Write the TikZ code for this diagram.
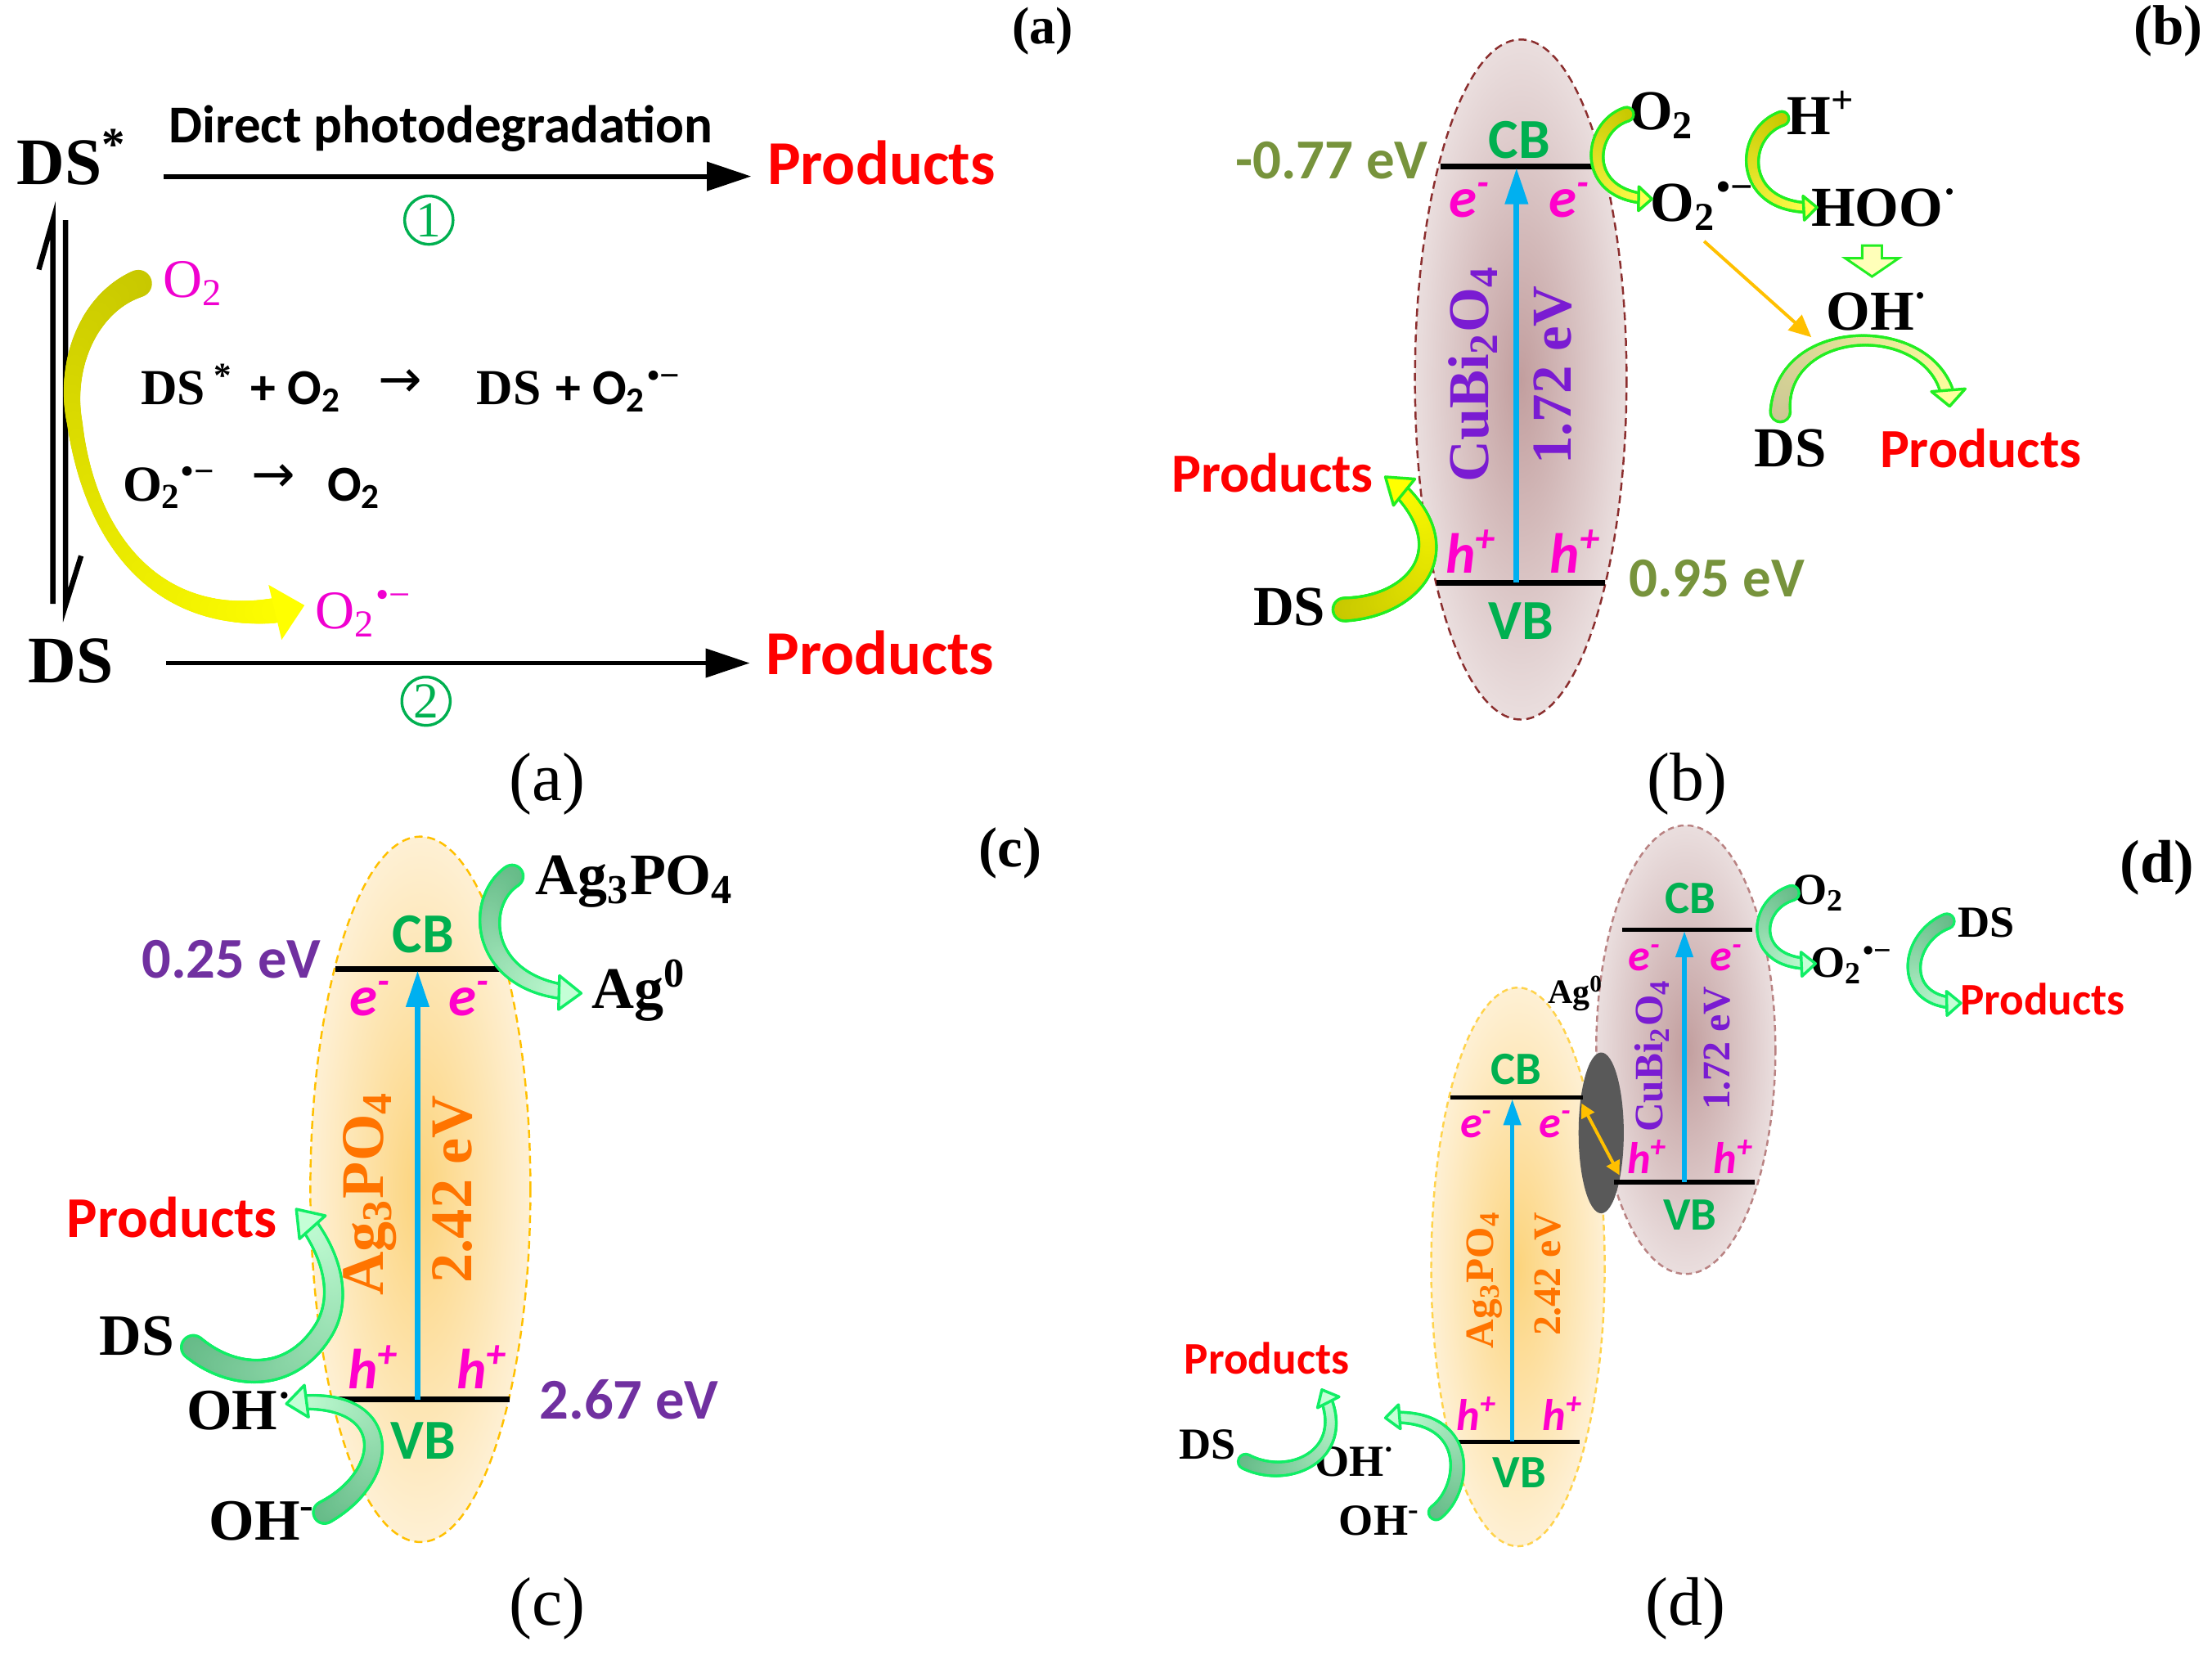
\documentclass[tikz,border=0pt]{standalone}
\usepackage{fontspec}
\setmainfont{Liberation Serif}
\newfontfamily\calfont{Carlito}
\newfontfamily\djfont{DejaVu Sans}
\usetikzlibrary{arrows.meta,decorations.markings}

\definecolor{cbgreen}{HTML}{00B050}
\definecolor{emag}{HTML}{FF00CC}
\definecolor{olivev}{HTML}{77933C}
\definecolor{purpv}{HTML}{7030A0}
\definecolor{violett}{HTML}{7A1BD2}
\definecolor{orangt}{HTML}{FF7400}
\definecolor{prodred}{HTML}{FF0000}
\definecolor{skyb}{HTML}{00B0F0}
\definecolor{mag}{HTML}{F000D0}
\definecolor{olivy}{HTML}{C8C800}
\definecolor{yelw}{HTML}{FFFF00}
\definecolor{yelw2}{HTML}{FFFF50}
\definecolor{limeo}{HTML}{22EE22}
\definecolor{limeg}{HTML}{11EE66}
\definecolor{khaki}{HTML}{CCC894}
\definecolor{paley}{HTML}{FFFF9E}
\definecolor{dgreen}{HTML}{66BB88}
\definecolor{mint}{HTML}{C4FFD6}
\definecolor{brownin}{RGB}{194,158,158}
\definecolor{brownout}{RGB}{234,222,222}
\definecolor{brownedge}{HTML}{8B2E2E}
\definecolor{orin}{RGB}{252,212,125}
\definecolor{orout}{RGB}{254,240,212}
\definecolor{oredge}{HTML}{FFC000}
\definecolor{agdark}{HTML}{595959}

\tikzset{
 tx/.style={inner sep=0pt, outer sep=0pt},
 sb/.style={tx, font=\fontsize{#1}{#1}\selectfont\bfseries},
 sr/.style={tx, font=\fontsize{#1}{#1}\selectfont},
 cb/.style={tx, font=\calfont\fontsize{#1}{#1}\selectfont\bfseries},
 cr/.style={tx, font=\calfont\fontsize{#1}{#1}\selectfont},
 ci/.style={tx, text=emag, font=\calfont\fontsize{#1}{#1}\selectfont\bfseries\itshape},
 bandtxt/.style={cb=#1, text=cbgreen},
 prodtxt/.style={cb=#1, text=prodred},
 bandline/.style={line width=#1, black},
 bluearrow/.style n args={3}{draw=skyb, line width=#1, -{Triangle[length=#2,width=#3]}},
 blkarrow/.style={line width=1.2pt, -{Triangle[length=11pt,width=7pt]}},
 harp/.style={line width=1.3pt, line join=miter},
 numcirc/.style={circle, draw=cbgreen, line width=0.7pt, minimum size=12pt, inner sep=0pt, text=cbgreen, font=\fontsize{12.5}{12.5}\selectfont},
 brush/.style n args={6}{postaction={decorate,decoration={markings,
   mark=between positions 0 and -#6pt step 0.4pt with {%
     \pgfmathsetmacro\bt{\pgfkeysvalueof{/pgf/decoration/mark info/distance from start}/\pgfdecoratedpathlength}%
     \pgfmathsetmacro\bp{100*\bt}%
     \pgfmathsetmacro\br{(#3)*(1-\bt)+(#4)*\bt+4*(#5)*\bt*(1-\bt)}%
     \fill[#2!\bp!#1] (0pt,0pt) circle[radius=\br*1pt];}}}},
}

% #1 path #2 start colour #3 end colour #4 outline #5 r0 #6 r1 #7 mid offset #8 head length #9 head half width
\newcommand\swoosh[9]{%
 \path[brush={#4}{#4}{#5+0.7}{#6+0.7}{#7}{#8}] #1;%
 \path[brush={#2}{#3}{#5}{#6}{#7}{#8}] #1;%
 \path[postaction={decorate,decoration={markings,mark=at position 0.9995 with {\filldraw[fill=#3,draw=#4,line width=0.7pt,line join=round] (0pt,0pt)--(-#8pt,#9pt)--(-#8pt,-#9pt)--cycle;}}}] #1;}

\begin{document}
\begin{tikzpicture}[x=0.35pt,y=-0.35pt]
\useasboundingbox (0,0) rectangle (1568,1179);
\fill[white] (0,0) rectangle (1568,1179);

% ================= panel (a)
\node[sb=13] (la) at (739,22) {(a)};
\node[sr=17] (capa) at (388,556) {(a)};
\node[sb=16.5, anchor=base west] (dsstar) at (12,131) {DS\textsuperscript{*}};
\node[sb=16.5, anchor=base west] (dsbot) at (20,484) {DS};
\node[cb=13.2, anchor=base west] (photo) at (120,101) {Direct photodegradation};
\node[prodtxt=15.5, anchor=base west] (proda1) at (544,131) {Products};
\node[prodtxt=15.5, anchor=base west] (proda2) at (543,478) {Products};
\coordinate (a1s) at (116,125);
\coordinate (a2s) at (118,470);
\draw[blkarrow, shorten >=4pt] (a1s) -- (proda1.west |- a1s);
\draw[blkarrow, shorten >=4pt] (a2s) -- (proda2.west |- a2s);
\node[numcirc] (n1) at (304,156) {1};
\node[numcirc] (n2) at (302,497) {2};
% equilibrium harpoons
\coordinate (hla) at (37.5,428); \coordinate (hlb) at (37.5,156);
\coordinate (hra) at (46.5,156); \coordinate (hrb) at (46.5,429);
\draw[harp] (hla) -- (hlb) -- ++(-10,35);
\draw[harp] (hra) -- (hrb) -- ++(11,-35);
% big yellow arrow
\coordinate (ya) at (98,201); \coordinate (yb) at (216,429);
\path[brush={olivy}{yelw}{3.4}{3.5}{-1.7}{7.5}] (ya) .. controls (62,215) and (45,260) .. (53,300) .. controls (65,390) and (120,452) .. (yb);
\path[postaction={decorate,decoration={markings,mark=at position 0.9995 with {\fill[yelw] (0pt,0pt)--(-7.5pt,7pt)--(-7.5pt,-7pt)--cycle;}}}] (ya) .. controls (62,215) and (45,260) .. (53,300) .. controls (65,390) and (120,452) .. (yb);
\node[sr=13.5, text=mag] (mo2) at (137,201) {O\textsubscript{2}};
\node[sr=13.5, text=mag] (mo2r) at (258,435) {O\textsubscript{2}\textsuperscript{•−}};
% equations
\node[sb=12.5, anchor=base west] (eq1a) at (100,287) {DS\,\textsuperscript{*}};
\node[cb=12.5, anchor=base west] (eq1b) at (178,287) {+ O\textsubscript{2}};
\node[tx, font=\djfont\fontsize{13}{13}\selectfont] (eq1c) at (284,272) {→};
\node[sb=12.5, anchor=base west] (eq1d) at (338,287) {DS};
\node[cb=12.5, anchor=base west] (eq1e) at (394,287) {+ O\textsubscript{2}};
\node[sb=12.5, anchor=base west] (eq1f) at (459,287) {\textsuperscript{•−}};
\node[sb=12.5, anchor=base west] (eq2a) at (87,355) {O\textsubscript{2}\textsuperscript{•−}};
\node[tx, font=\djfont\fontsize{13}{13}\selectfont] (eq2b) at (194,339) {→};
\node[cb=12.5, anchor=base west] (eq2c) at (232,355) {O\textsubscript{2}};

% ================= panel (b)
\node[sb=14] (lb) at (1537,22) {(b)};
\node[sr=17] (capb) at (1196,556) {(b)};
\shade[inner color=brownin, outer color=brownout] (1078,269) ellipse [x radius=75, y radius=241];
\draw[brownedge, dash pattern=on 2pt off 1.2pt, line width=0.5pt] (1078,269) ellipse [x radius=75, y radius=241];
\coordinate (bcbl) at (1021,118); \coordinate (bcbr) at (1134,118);
\coordinate (bvbl) at (1018,413); \coordinate (bvbr) at (1138,413);
\draw[bandline=1.5pt] (bcbl) -- (bcbr);
\draw[bandline=1.5pt] (bvbl) -- (bvbr);
\coordinate (bbl) at (1075,413); \coordinate (btl) at (1075,119);
\draw[bluearrow={1.4pt}{9pt}{5.5pt}] (bbl) -- (btl);
\node[bandtxt=14] (bcb) at (1077,99) {CB};
\node[bandtxt=14] (bvb) at (1078,440) {VB};
\node[ci=14] (be1) at (1042,142) {e\textsuperscript{-}};
\node[ci=14] (be2) at (1113,142) {e\textsuperscript{-}};
\node[ci=14] (bh1) at (1043,391) {h\textsuperscript{+}};
\node[ci=14] (bh2) at (1117,391) {h\textsuperscript{+}};
\node[sb=14.3, text=violett, rotate=90] (bcubi) at (1044,265) {CuBi\textsubscript{2}O\textsubscript{4}};
\node[sb=14, text=violett, rotate=90] (bgap) at (1101,266) {1.72 eV};
\node[cb=14, text=olivev] (bcbv) at (944,114) {-0.77 eV};
\node[cb=14, text=olivev] (bvbv) at (1217,410) {0.95 eV};
\node[prodtxt=13.7] (bprodl) at (902,335) {Products};
\node[sb=14] (bdsl) at (914,430) {DS};
\node[sb=14] (bo2) at (1178,82) {O\textsubscript{2}};
\node[sb=14] (bo2r) at (1207,146) {O\textsubscript{2}\textsuperscript{•−}};
\node[sb=14] (bhp) at (1291,80) {H\textsuperscript{+}};
\node[sb=14] (bhoo) at (1336,147) {HOO\textsuperscript{·}};
\node[sb=14] (boh) at (1331,221) {OH\textsuperscript{·}};
\node[sb=14] (bdsr) at (1269,318) {DS};
\node[prodtxt=13.7] (bprodr) at (1404,318) {Products};
% curved arrows (b)
\coordinate (b1s) at (1153,81); \coordinate (b1e) at (1171,141);
\swoosh{(b1s) .. controls (1125,90) and (1120,140) .. (b1e)}{olivy}{yelw2}{limeo}{1.4}{0.8}{0}{3.3}{3}
\coordinate (b2s) at (1263,84); \coordinate (b2e) at (1288,147);
\swoosh{(b2s) .. controls (1232,95) and (1232,150) .. (b2e)}{olivy}{yelw2}{limeo}{1.4}{0.8}{0}{3.3}{3}
\coordinate (b3s) at (953,432); \coordinate (b3e) at (982,338);
\swoosh{(b3s) .. controls (1005,430) and (1040,385) .. (b3e)}{olivy}{yelw}{limeo}{2.5}{1.3}{0}{6}{4.2}
\coordinate (b4s) at (1262,292); \coordinate (b4e) at (1382,288);
\swoosh{(b4s) .. controls (1262,225) and (1377,225) .. (b4e)}{khaki}{paley}{limeo}{2.1}{1.4}{-0.9}{4}{4.2}
\coordinate (orS) at (1208,171); \coordinate (orE) at (1284,239);
\draw[draw=oredge, line width=0.8pt, -{Triangle[length=5.5pt,width=5pt]}] (orS) -- (orE);
\filldraw[fill=yelw2!40!white, draw=limeo, line width=0.6pt] (1320,174) -- (1334,174) -- (1334,183) -- (1346,183) -- (1327,196) -- (1308,183) -- (1320,183) -- cycle;

% ================= panel (c)
\node[sb=14] (lc) at (716,605) {(c)};
\node[sr=17] (capc) at (388,1140) {(c)};
\shade[inner color=orin, outer color=orout] (298,843) ellipse [x radius=78, y radius=250];
\draw[oredge, dash pattern=on 2pt off 1.2pt, line width=0.5pt] (298,843) ellipse [x radius=78, y radius=250];
\coordinate (ccbl) at (238,687); \coordinate (ccbr) at (359,687);
\coordinate (cvbl) at (236,992); \coordinate (cvbr) at (361,992);
\draw[bandline=1.5pt] (ccbl) -- (ccbr);
\draw[bandline=1.5pt] (cvbl) -- (cvbr);
\coordinate (cbl) at (296,992); \coordinate (ctl) at (296,688);
\draw[bluearrow={1.4pt}{9pt}{5.5pt}] (cbl) -- (ctl);
\node[bandtxt=14] (ccb) at (300,662) {CB};
\node[bandtxt=14] (cvb) at (300,1021) {VB};
\node[ci=14] (ce1) at (263,708) {e\textsuperscript{-}};
\node[ci=14] (ce2) at (333,708) {e\textsuperscript{-}};
\node[ci=14] (ch1) at (265,969) {h\textsuperscript{+}};
\node[ci=14] (ch2) at (342,969) {h\textsuperscript{+}};
\node[sb=15, text=orangt, rotate=90] (cag) at (262,846) {Ag\textsubscript{3}PO\textsubscript{4}};
\node[sb=14.7, text=orangt, rotate=90] (cgap) at (321,843) {2.42 eV};
\node[cb=14.3, text=purpv] (ccbv) at (164,680) {0.25 eV};
\node[cb=14.3, text=purpv] (cvbv) at (446,992) {2.67 eV};
\node[sb=14.6] (cagp) at (450,625) {Ag\textsubscript{3}PO\textsubscript{4}};
\node[sb=14.6] (cag0) at (453,702) {Ag\textsuperscript{0}};
\node[prodtxt=14.3] (cprod) at (122,863) {Products};
\node[sb=14.5] (cds) at (97,947) {DS};
\node[sb=14.5] (cohr) at (170,1000) {OH\textsuperscript{·}};
\node[sb=14.5] (cohm) at (186,1078) {OH\textsuperscript{-}};
\coordinate (c1s) at (363,621); \coordinate (c1e) at (412,704);
\swoosh{(c1s) .. controls (335,640) and (340,702) .. (c1e)}{dgreen}{mint}{limeg}{2.4}{1.3}{0}{5.5}{4.2}
\coordinate (c2s) at (137,955); \coordinate (c2e) at (210,857);
\swoosh{(c2s) .. controls (165,978) and (205,980) .. (228,945) .. controls (245,920) and (235,885) .. (c2e)}{dgreen}{mint}{limeg}{2.6}{1.6}{0}{6}{4.3}
\coordinate (c3s) at (230,1072); \coordinate (c3e) at (203,995);
\swoosh{(c3s) .. controls (280,1045) and (280,985) .. (c3e)}{dgreen}{mint}{limeg}{2.4}{1.2}{0}{5}{4}

% ================= panel (d)
\node[sb=15] (ld) at (1529,615) {(d)};
\node[sr=17] (capd) at (1195,1140) {(d)};
\shade[inner color=brownin, outer color=brownout] (1195,744) ellipse [x radius=63.5, y radius=159];
\draw[brownedge!60!white, dash pattern=on 1.5pt off 1pt, line width=0.5pt] (1195,744) ellipse [x radius=63.5, y radius=159];
\shade[inner color=orin, outer color=orout] (1076,898) ellipse [x radius=61.5, y radius=198];
\draw[oredge!70!white, dash pattern=on 1.5pt off 1pt, line width=0.5pt] (1076,898) ellipse [x radius=61.5, y radius=198];
\fill[agdark] (1135,803) ellipse [x radius=16, y radius=57];
\coordinate (dcbl) at (1150,659); \coordinate (dcbr) at (1242,659);
\coordinate (dvbl) at (1144,838); \coordinate (dvbr) at (1244,838);
\draw[bandline=1.1pt] (dcbl) -- (dcbr);
\draw[bandline=1.1pt] (dvbl) -- (dvbr);
\coordinate (ecbl) at (1028,778); \coordinate (ecbr) at (1122,778);
\coordinate (evbl) at (1031,1022); \coordinate (evbr) at (1120,1022);
\draw[bandline=1.1pt] (ecbl) -- (ecbr);
\draw[bandline=1.1pt] (evbl) -- (evbr);
\coordinate (dbl) at (1194,838); \coordinate (dtl) at (1194,660);
\draw[bluearrow={1.1pt}{6.5pt}{4.2pt}] (dbl) -- (dtl);
\coordinate (ebl) at (1072,1022); \coordinate (etl) at (1072,779);
\draw[bluearrow={1.1pt}{6.5pt}{4.2pt}] (ebl) -- (etl);
\node[bandtxt=11.5] (dcb) at (1198,637) {CB};
\node[bandtxt=11.5] (dvb) at (1198,861) {VB};
\node[ci=11] (de1) at (1166,679) {e\textsuperscript{-}};
\node[ci=11] (de2) at (1224,679) {e\textsuperscript{-}};
\node[ci=11] (dh1) at (1168,820) {h\textsuperscript{+}};
\node[ci=11] (dh2) at (1229,820) {h\textsuperscript{+}};
\node[sb=10, text=violett, rotate=90] (dcubi) at (1171,748) {CuBi\textsubscript{2}O\textsubscript{4}};
\node[sb=9.7, text=violett, rotate=90] (dgap1) at (1217,743) {1.72 eV};
\node[bandtxt=11.5] (ecb) at (1075,758) {CB};
\node[bandtxt=11.5] (evb) at (1077,1044) {VB};
\node[ci=11] (ee1) at (1047,797) {e\textsuperscript{-}};
\node[ci=11] (ee2) at (1103,797) {e\textsuperscript{-}};
\node[ci=11] (eh1) at (1047,1002) {h\textsuperscript{+}};
\node[ci=11] (eh2) at (1108,1002) {h\textsuperscript{+}};
\node[sb=10, text=orangt, rotate=90] (eag) at (1052,907) {Ag\textsubscript{3}PO\textsubscript{4}};
\node[sb=9.7, text=orangt, rotate=90] (egap) at (1097,903) {2.42 eV};
\node[sb=8.5] (dag0) at (1117,704) {Ag\textsuperscript{0}};
\coordinate (dxa) at (1121,782); \coordinate (dxb) at (1148,833);
\draw[draw=oredge, line width=0.8pt, {Triangle[length=3.5pt,width=3.5pt]}-{Triangle[length=3.5pt,width=3.5pt]}] (dxa) -- (dxb);
\node[sb=11] (do2) at (1289,633) {O\textsubscript{2}};
\node[sb=11] (do2r) at (1313,684) {O\textsubscript{2}\textsuperscript{•−}};
\node[sb=11] (ddsr) at (1408,654) {DS};
\node[prodtxt=11.2] (dprodr) at (1448,708) {Products};
\node[prodtxt=11.2] (dprodl) at (898,963) {Products};
\node[sb=11] (ddsl) at (856,1024) {DS};
\node[sb=11] (dohr) at (961,1036) {OH\textsuperscript{·}};
\node[sb=11] (dohm) at (978,1078) {OH\textsuperscript{-}};
\coordinate (d1s) at (1270,633); \coordinate (d1e) at (1287,683);
\swoosh{(d1s) .. controls (1242,642) and (1240,685) .. (d1e)}{dgreen}{mint}{limeg}{1.5}{0.9}{0}{3.5}{3}
\coordinate (d2s) at (1380,653); \coordinate (d2e) at (1390,711);
\swoosh{(d2s) .. controls (1350,665) and (1345,712) .. (d2e)}{dgreen}{mint}{limeg}{1.5}{0.9}{0}{3.5}{3}
\coordinate (d3s) at (883,1036); \coordinate (d3e) at (937,985);
\swoosh{(d3s) .. controls (915,1052) and (960,1030) .. (d3e)}{dgreen}{mint}{limeg}{1.5}{0.9}{0}{3.5}{3}
\coordinate (d4s) at (1018,1072); \coordinate (d4e) at (982,1005);
\swoosh{(d4s) .. controls (1040,1055) and (1045,1000) .. (d4e)}{dgreen}{mint}{limeg}{1.5}{0.9}{0}{3.5}{3}
\end{tikzpicture}
\end{document}
